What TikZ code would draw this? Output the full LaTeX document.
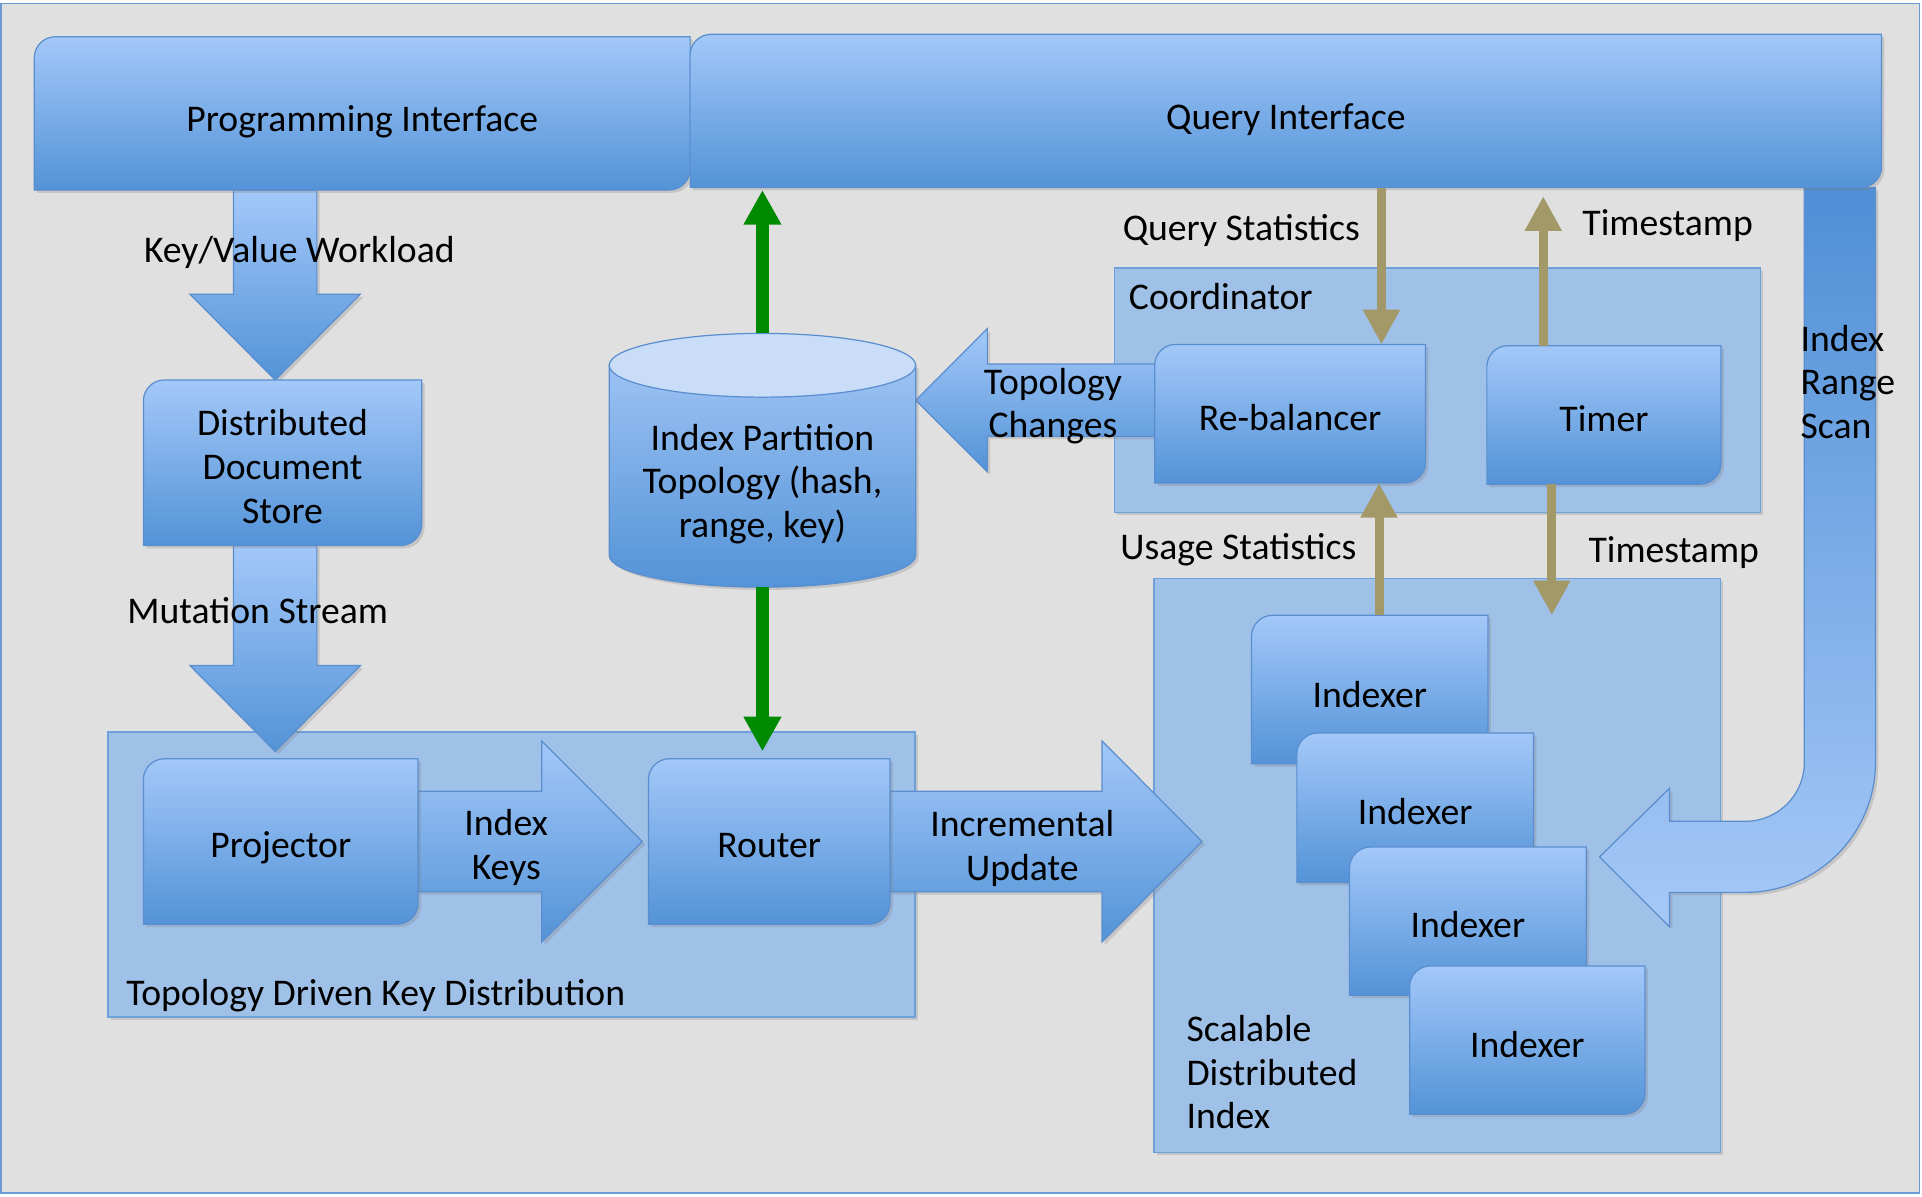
\documentclass[tikz,border=0pt]{standalone}
\usepackage{fontspec}
\setmainfont{Carlito}
\usetikzlibrary{arrows.meta,shadows,calc}
\pgfdeclarelayer{back}
\pgfdeclarelayer{mid}
\pgfdeclarelayer{front}
\pgfsetlayers{back,mid,main,front}

\definecolor{bgc}{HTML}{E0E0E0}
\definecolor{framec}{HTML}{6B9AD3}
\definecolor{boxtop}{HTML}{A3C8F9}
\definecolor{boxbot}{HTML}{5393D7}
\definecolor{boxline}{HTML}{5A8ECF}
\definecolor{contfill}{HTML}{9FC1E8}
\definecolor{contline}{HTML}{6EA1DB}
\definecolor{cyltopc}{HTML}{C9DDF9}
\definecolor{cylbtop}{HTML}{9CC2F3}
\definecolor{greenc}{HTML}{008A00}
\definecolor{tanc}{HTML}{A39868}
\definecolor{bandtop}{HTML}{4F8FD6}
\definecolor{bandbot}{HTML}{A6C9F7}

\newcommand\ml[1]{\begin{tabular}[t]{@{}c@{}}#1\end{tabular}}
\newcommand\mlleft[1]{\begin{tabular}[t]{@{}l@{}}#1\end{tabular}}

\tikzset{
  txt/.style={inner sep=0pt, outer sep=0pt, font=\fontsize{18.45}{21.4}\selectfont, text=black},
  shad/.style={drop shadow={opacity=0.28, shadow xshift=1.4pt, shadow yshift=-1.4pt}},
  boxshape/.style={shad, top color=boxtop, bottom color=boxbot, draw=boxline, line width=0.6pt},
  boxlabel/.style={txt, rectangle},
  container/.style={shad, rectangle, inner sep=0pt, outer sep=0pt, fill=contfill, draw=contline, line width=0.7pt},
  blockarrow/.style={shad, top color=boxtop, bottom color=boxbot, draw=boxline, line width=0.6pt},
  greenarrow/.style={draw=greenc, line width=6pt, -{Triangle[length=17pt,width=17.4pt]}},
  tanarrow/.style={draw=tanc, line width=4.4pt, -{Triangle[length=17pt,width=17pt]}},
}

% round-diagonal-corner box: [radius]{name}{x1}{y1}{x2}{y2}{raise}{text}
\newcommand\rdbox[8][17]{%
  \path[boxshape] (#3,#6) -- (#3,#4+#1) .. controls (#3,#4+0.45*#1) and (#3+0.45*#1,#4) .. (#3+#1,#4)
     -- (#5,#4) -- (#5,#6-#1) .. controls (#5,#6-0.45*#1) and (#5-0.45*#1,#6) .. (#5-#1,#6) -- cycle;
  \node[boxlabel, minimum width={(#5-#3)*0.6pt}, minimum height={(#6-#4)*0.6pt}] (#2)
     at ({(#3+#5)/2},{(#4+#6)/2}) {\raisebox{#7}[0pt][0pt]{\ml{#8}}};
}
\newcommand\contbox[5]{%
  \node[container, minimum width={(#4-#2)*0.6pt}, minimum height={(#5-#3)*0.6pt}] (#1)
     at ({(#2+#4)/2},{(#3+#5)/2}) {};
}
% block arrows: {from}{tip}{shaft half}{head half}{head length}
\newcommand\barrowdown[5]{%
  \path[blockarrow] let \p1=(#1), \p2=(#2) in
   (\x2-#3*0.6pt,\y1) -- (\x2+#3*0.6pt,\y1) -- (\x2+#3*0.6pt,\y2+#5*0.6pt) -- (\x2+#4*0.6pt,\y2+#5*0.6pt)
   -- (\x2,\y2) -- (\x2-#4*0.6pt,\y2+#5*0.6pt) -- (\x2-#3*0.6pt,\y2+#5*0.6pt) -- cycle;
}
\newcommand\barrowright[5]{%
  \path[blockarrow] let \p1=(#1), \p2=(#2) in
   (\x1,\y2+#3*0.6pt) -- (\x2-#5*0.6pt,\y2+#3*0.6pt) -- (\x2-#5*0.6pt,\y2+#4*0.6pt) -- (\x2,\y2)
   -- (\x2-#5*0.6pt,\y2-#4*0.6pt) -- (\x2-#5*0.6pt,\y2-#3*0.6pt) -- (\x1,\y2-#3*0.6pt) -- cycle;
}
\newcommand\barrowleft[5]{%
  \path[blockarrow] let \p1=(#1), \p2=(#2) in
   (\x1,\y2+#3*0.6pt) -- (\x2+#5*0.6pt,\y2+#3*0.6pt) -- (\x2+#5*0.6pt,\y2+#4*0.6pt) -- (\x2,\y2)
   -- (\x2+#5*0.6pt,\y2-#4*0.6pt) -- (\x2+#5*0.6pt,\y2-#3*0.6pt) -- (\x1,\y2-#3*0.6pt) -- cycle;
}

\begin{document}
\begin{tikzpicture}[x=0.6pt,y=-0.6pt]
\useasboundingbox (0,0) rectangle (1568,976);

\begin{pgfonlayer}{back}
  \path[fill=bgc, draw=framec, line width=0.8pt] (1,3) rectangle (1566,973);
  \contbox{tdkd}{88}{597}{746.5}{829.5}
  \contbox{coord}{909}{218.5}{1436}{418}
  \contbox{sdi}{941.5}{472}{1403.5}{940}
\end{pgfonlayer}

% boxes
\rdbox{prog}{28}{30}{563}{155}{-8.8pt}{Programming Interface}
\rdbox{qi}{563}{28}{1535}{153}{-9.3pt}{Query Interface}
\rdbox{dds}{117}{310}{344}{445}{13.2pt}{Distributed\\Document\\Store}
\rdbox{proj}{117}{619}{341}{754}{-7.8pt}{Projector}
\rdbox{router}{529}{619}{726}{754}{-7.8pt}{Router}
\rdbox{rebal}{942}{281}{1163}{394}{-8.4pt}{Re-balancer}
\rdbox{timer}{1213}{282}{1404}{395}{-8.2pt}{Timer}
\rdbox{idx1}{1021}{502}{1214}{623}{-8.9pt}{Indexer}
\rdbox{idx2}{1058}{598}{1251}{720}{-8.2pt}{Indexer}
\rdbox{idx3}{1101}{691}{1294}{812}{-8.2pt}{Indexer}
\rdbox{idx4}{1150}{788}{1342}{909}{-8.6pt}{Indexer}

% cylinder
\path[shad, top color=cylbtop, bottom color=boxbot, draw=boxline, line width=0.6pt]
  (497,298) -- (497,453) arc[start angle=180, end angle=0, x radius=125, y radius=26] -- (747,298) -- cycle;
\path[fill=cyltopc, draw=boxline, line width=0.6pt] (622,298) ellipse [x radius=125, y radius=26];
\node[boxlabel, minimum width=150pt, minimum height=124.2pt] (cyl) at (622,375.5)
  {\raisebox{4.9pt}[0pt][0pt]{\ml{Index Partition\\Topology (hash,\\range, key)}}};

% block arrows
\begin{pgfonlayer}{mid}
  \path[shad, top color=bandtop, bottom color=bandbot, draw=boxline, line width=0.6pt]
    (1472,153) -- (1530,153) -- (1530,622) .. controls (1530,680.5) and (1482.5,728) .. (1424,728)
    -- (1362,728) -- (1362,756) -- (1305,699) -- (1362,643) -- (1362,670) -- (1424,670)
    .. controls (1450.5,670) and (1472,648.5) .. (1472,622) -- cycle;
  \coordinate (kvtip) at ([xshift=-3.6pt]dds.north);
  \barrowdown{prog.south}{kvtip}{34}{69.5}{70}
  \coordinate (mstip) at ([xshift=-2.7pt,yshift=3.6pt]proj.north);
  \barrowdown{dds.south}{mstip}{34}{69.5}{70}
  \coordinate (iktip) at ([xshift=-3pt]router.west);
  \barrowright{proj.east}{iktip}{41}{82}{82}
  \coordinate (iutip) at ([xshift=152.8pt]router.east);
  \barrowright{router.east}{iutip}{41}{82}{81.6}
  \coordinate (tcy) at ([yshift=6.6pt]rebal.west);
  \coordinate (tctip) at (tcy -| cyl.east);
  \barrowleft{rebal.west}{tctip}{29.5}{58.5}{58.5}
\end{pgfonlayer}

% connectors
\draw[greenarrow, shorten >=1.2pt] (cyl.north) -- (cyl.north |- qi.south);
\draw[greenarrow, shorten >=3.6pt] (cyl.south) -- (cyl.south |- router.north);
\coordinate (qsx) at (1127,0);
\coordinate (tsux) at (1259,0);
\coordinate (usx) at (1125,0);
\coordinate (tsdx) at (1266,0);
\draw[tanarrow] (qi.south -| qsx) -- (rebal.north -| qsx);
\draw[tanarrow, shorten >=4.2pt] (timer.north -| tsux) -- (qi.south -| tsux);
\draw[tanarrow] (idx1.north -| usx) -- (rebal.south -| usx);
\draw[tanarrow] (timer.south -| tsdx) -- (idx1.north -| tsdx);

% labels
\begin{pgfonlayer}{front}
  \node[txt, anchor=base] (lik) at (413,681.5) {\ml{Index\\Keys}};
  \node[txt, anchor=base] (liu) at (834,682.5) {\ml{Incremental\\Update}};
  \node[txt, anchor=base] (ltc) at (859,321.5) {\ml{Topology\\Changes}};
  \node[txt, anchor=base west] (lkv) at (117.5,214.5) {Key/Value Workload};
  \node[txt, anchor=base west] (lms) at (104,508.5) {Mutation Stream};
  \node[txt, anchor=base west] (lqs) at (916,196.5) {Query Statistics};
  \node[txt, anchor=base west] (lts1) at (1291,192.5) {Timestamp};
  \node[txt, anchor=base west] (lco) at (921,252.5) {Coordinator};
  \node[txt, anchor=base west] (lus) at (914,456.5) {Usage Statistics};
  \node[txt, anchor=base west] (lts2) at (1296,458.5) {Timestamp};
  \node[txt, anchor=base west] (lirs) at (1469,286.5) {\mlleft{Index\\Range\\Scan}};
  \node[txt, anchor=base west] (lsdi) at (968,849.5) {\mlleft{Scalable\\Distributed\\Index}};
  \node[txt, anchor=base west] (ltd) at (103,820.5) {Topology Driven Key Distribution};
\end{pgfonlayer}
\end{tikzpicture}
\end{document}
